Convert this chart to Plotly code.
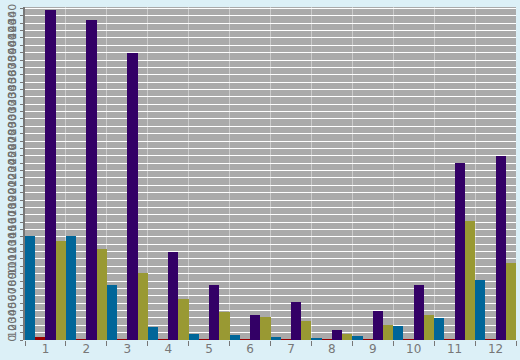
import plotly.graph_objects as go

categories = ["1", "2", "3", "4", "5", "6", "7", "8", "9", "10", "11", "12"]
series_blue = [141, 141, 75, 17, 8, 7, 4, 3, 5, 19, 30, 81]
series_red = [4, 1.3, 1.3, 1.3, 1.3, 1.3, 1.3, 1.3, 1.3, 1.3, 1.3, 1.3]
series_purple = [448, 435, 389, 119, 74, 34, 52, 13, 40, 75, 240, 250]
series_olive = [134, 123, 91, 55, 38, 31, 26, 8, 21, 34, 161, 105]

colors = ["#006699", "#990000", "#330066", "#999933"]
names = ["A", "B", "C", "D"]
data = [series_blue, series_red, series_purple, series_olive]

fig = go.Figure()
for n, vals, c in zip(names, data, colors):
    fig.add_trace(go.Bar(x=categories, y=vals, name=n, marker=dict(color=c, line=dict(width=0))))

fig.update_layout(
    width=520, height=360,
    margin=dict(l=25, r=4, t=4, b=19),
    paper_bgcolor="#dcf0f7",
    plot_bgcolor="#aaaaaa",
    barmode="group", bargap=0, bargroupgap=0,
    showlegend=False,
    font=dict(family="DejaVu Sans", color="#777777"),
)
fig.update_xaxes(
    type="category", range=[-0.5, 11.5],
    tickson="boundaries", ticks="outside", ticklen=5, tickcolor="#777777",
    showgrid=True, gridcolor="#cccccc", gridwidth=1,
    tickfont=dict(size=12, color="#777777"),
    showline=False, zeroline=False,
)
fig.update_yaxes(
    range=[0, 452], dtick=10, tickangle=-90,
    showgrid=True, gridcolor="#ffffff", gridwidth=1.2,
    ticks="outside", ticklen=3, tickcolor="#777777",
    showline=True, linecolor="#777777", linewidth=2,
    tickfont=dict(size=11, color="#707070"),
    zeroline=False,
)
fig.write_html("out.html")
